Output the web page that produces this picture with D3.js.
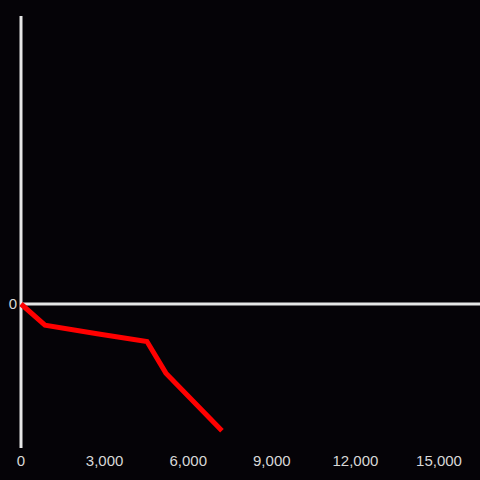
<!DOCTYPE html>
<html>
<head>
<meta charset="utf-8">
<script src="https://cdn.jsdelivr.net/npm/d3@7"></script>
<style>
  html, body { margin: 0; padding: 0; background: #050307; }
  svg { display: block; }
</style>
</head>
<body>
<div id="chart"></div>
<script>
// series
const xValues = [0, 860, 2730, 4520, 5200, 7210];
const yValues = [0, -22, -31, -39, -72, -132];
const xTicks = [0, 3000, 6000, 9000, 12000, 15000];
const yTicks = [0];

const width = 480, height = 480;
const axisColor = '#e6e6e6';
const labelColor = '#d8d8d8';

const svg = d3.select('#chart').append('svg')
  .attr('width', width)
  .attr('height', height)
  .style('background', '#050307');

const x = d3.scaleLinear().domain([0, 16470]).range([21, 480]);
const y = d3.scaleLinear().domain([-150, 300]).range([448, 16]);

// vertical axis line
svg.append('line')
  .attr('x1', x(0)).attr('x2', x(0))
  .attr('y1', y(300)).attr('y2', y(-150))
  .attr('stroke', axisColor)
  .attr('stroke-width', 3);

// horizontal zero line
svg.append('line')
  .attr('x1', x(0)).attr('x2', width)
  .attr('y1', y(0)).attr('y2', y(0))
  .attr('stroke', axisColor)
  .attr('stroke-width', 3);

// x tick labels along the bottom
svg.selectAll('.x-label')
  .data(xTicks)
  .enter().append('text')
  .attr('class', 'x-label')
  .attr('x', d => x(d))
  .attr('y', 466)
  .attr('text-anchor', 'middle')
  .style('font-family', 'Liberation Sans, Arial, sans-serif')
  .style('font-size', '15px')
  .style('fill', labelColor)
  .text(d => d3.format(',')(d));

// y tick label
svg.selectAll('.y-label')
  .data(yTicks)
  .enter().append('text')
  .attr('class', 'y-label')
  .attr('x', 17)
  .attr('y', d => y(d) + 5)
  .attr('text-anchor', 'end')
  .style('font-family', 'Liberation Sans, Arial, sans-serif')
  .style('font-size', '15px')
  .style('fill', labelColor)
  .text(d => d);

const line = d3.line()
  .x((d, i) => x(xValues[i]))
  .y(d => y(d));

svg.append('path')
  .datum(yValues)
  .attr('d', line)
  .attr('fill', 'none')
  .attr('stroke', '#ff0000')
  .attr('stroke-width', 5)
  .attr('stroke-linejoin', 'miter');
</script>
</body>
</html>
